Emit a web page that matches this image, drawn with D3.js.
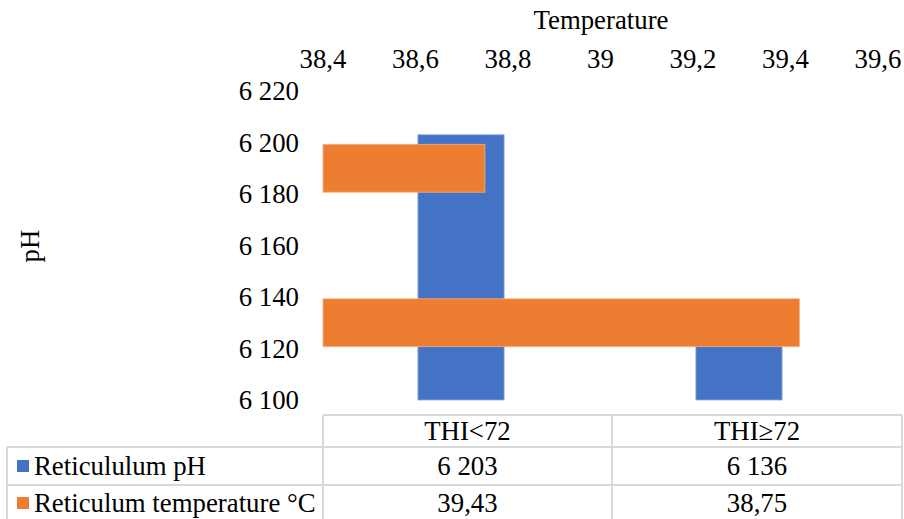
<!DOCTYPE html>
<html>
<head>
<meta charset="utf-8">
<script src="https://cdn.jsdelivr.net/npm/d3@7"></script>
<style>
  body { margin: 0; background: #fff; }
  text { font-family: "Liberation Serif", "Times New Roman", serif; fill: #000; }
</style>
</head>
<body>
<div id="chart"></div>
<script>
// Data
const categories = ['THI<72', 'THI≥72'];
const phValues = [6203, 6136];
const tempValues = [39.43, 38.75];
const seriesNames = ['Reticululum pH', 'Reticulum temperature °C'];
const phTicks = [6100, 6120, 6140, 6160, 6180, 6200, 6220];
const tempTicks = [38.4, 38.6, 38.8, 39, 39.2, 39.4, 39.6];

const config = {
    width: 904,
    height: 519,
    fontSize: 26.8,
    blue: '#4472C4',
    orange: '#ED7D31',
    grid: '#d9d9d9'
};

const locale = d3.formatLocale({ decimal: ',', thousands: ' ', grouping: [3], currency: ['', ''] });
const fmtPh = locale.format(',d');
const fmtTemp = d => locale.format(',')(+d.toFixed(2));

const svg = d3.select('#chart')
    .append('svg')
    .attr('width', config.width)
    .attr('height', config.height);

// Scales
const plot = { left: 323, right: 878, top: 91, bottom: 400 };
const y = d3.scaleLinear().domain([6100, 6220]).range([plot.bottom, plot.top]);
const x = d3.scaleLinear().domain([38.4, 39.6]).range([plot.left, plot.right]);
const xBand = d3.scaleBand().domain(categories).range([plot.left - 1, plot.right]);
const yBand = d3.scaleBand().domain(categories).range([plot.bottom, plot.top]);
const gap = 0.31;

// Blue columns (pH)
svg.append('g').selectAll('rect')
    .data(phValues)
    .join('rect')
    .attr('x', (d, i) => xBand(categories[i]) + xBand.bandwidth() * (1 - gap) / 2)
    .attr('width', xBand.bandwidth() * gap)
    .attr('y', d => y(d))
    .attr('height', d => y(6100) - y(d))
    .attr('fill', config.blue)
    .attr('stroke', '#8fa9dc')
    .attr('stroke-width', 0.8);

// Orange bars (temperature)
svg.append('g').selectAll('rect')
    .data(tempValues)
    .join('rect')
    .attr('y', (d, i) => yBand(categories[i]) + yBand.bandwidth() * (1 - gap) / 2)
    .attr('height', yBand.bandwidth() * gap)
    .attr('x', x(38.4))
    .attr('width', d => x(d) - x(38.4))
    .attr('fill', config.orange)
    .attr('stroke', '#f4b183')
    .attr('stroke-width', 0.8);

// Left axis labels
svg.append('g').selectAll('text')
    .data(phTicks)
    .join('text')
    .attr('x', 299)
    .attr('y', d => y(d))
    .attr('dy', '0.34em')
    .attr('text-anchor', 'end')
    .attr('font-size', config.fontSize)
    .text(d => fmtPh(d));

// Top axis labels
svg.append('g').selectAll('text')
    .data(tempTicks)
    .join('text')
    .attr('x', d => x(d))
    .attr('y', 68)
    .attr('text-anchor', 'middle')
    .attr('font-size', config.fontSize)
    .text(d => fmtTemp(d));

// Axis titles
svg.append('text')
    .attr('x', 601)
    .attr('y', 29)
    .attr('text-anchor', 'middle')
    .attr('font-size', config.fontSize)
    .text('Temperature');

svg.append('text')
    .attr('transform', 'translate(30,246) rotate(-90)')
    .attr('dy', '0.34em')
    .attr('text-anchor', 'middle')
    .attr('font-size', config.fontSize)
    .text('pH');

// Data table
const cols = [7, 323, 612, 902];
const rows = [415, 447, 485, 521];
const tbl = svg.append('g')
    .attr('stroke', config.grid)
    .attr('stroke-width', 2);

tbl.append('line').attr('x1', cols[1]).attr('x2', cols[3]).attr('y1', rows[0]).attr('y2', rows[0]);
[1, 2, 3].forEach(r => {
    tbl.append('line').attr('x1', cols[0]).attr('x2', cols[3]).attr('y1', rows[r]).attr('y2', rows[r]);
});
tbl.append('line').attr('x1', cols[0]).attr('x2', cols[0]).attr('y1', rows[1]).attr('y2', rows[3]);
[1, 2, 3].forEach(c => {
    tbl.append('line').attr('x1', cols[c]).attr('x2', cols[c]).attr('y1', rows[0]).attr('y2', rows[3]);
});

const colCenter = i => (cols[i + 1] + cols[i + 2]) / 2;
const rowCenter = r => (rows[r] + rows[r + 1]) / 2;

// Header
svg.append('g').selectAll('text')
    .data(categories)
    .join('text')
    .attr('x', (d, i) => colCenter(i))
    .attr('y', rowCenter(0))
    .attr('dy', '0.34em')
    .attr('text-anchor', 'middle')
    .attr('font-size', config.fontSize)
    .text(d => d);

// Series rows
const tableRows = [
    { name: seriesNames[0], color: config.blue, values: phValues.map(fmtPh) },
    { name: seriesNames[1], color: config.orange, values: tempValues.map(fmtTemp) }
];

tableRows.forEach((row, r) => {
    const cy = rowCenter(r + 1);
    svg.append('rect')
        .attr('x', 17)
        .attr('y', cy - 6)
        .attr('width', 12)
        .attr('height', 12)
        .attr('fill', row.color);
    svg.append('text')
        .attr('x', 34)
        .attr('y', cy)
        .attr('dy', '0.34em')
        .attr('font-size', config.fontSize)
        .text(row.name);
    row.values.forEach((v, i) => {
        svg.append('text')
            .attr('x', colCenter(i))
            .attr('y', cy)
            .attr('dy', '0.34em')
            .attr('text-anchor', 'middle')
            .attr('font-size', config.fontSize)
            .text(v);
    });
});
</script>
</body>
</html>
